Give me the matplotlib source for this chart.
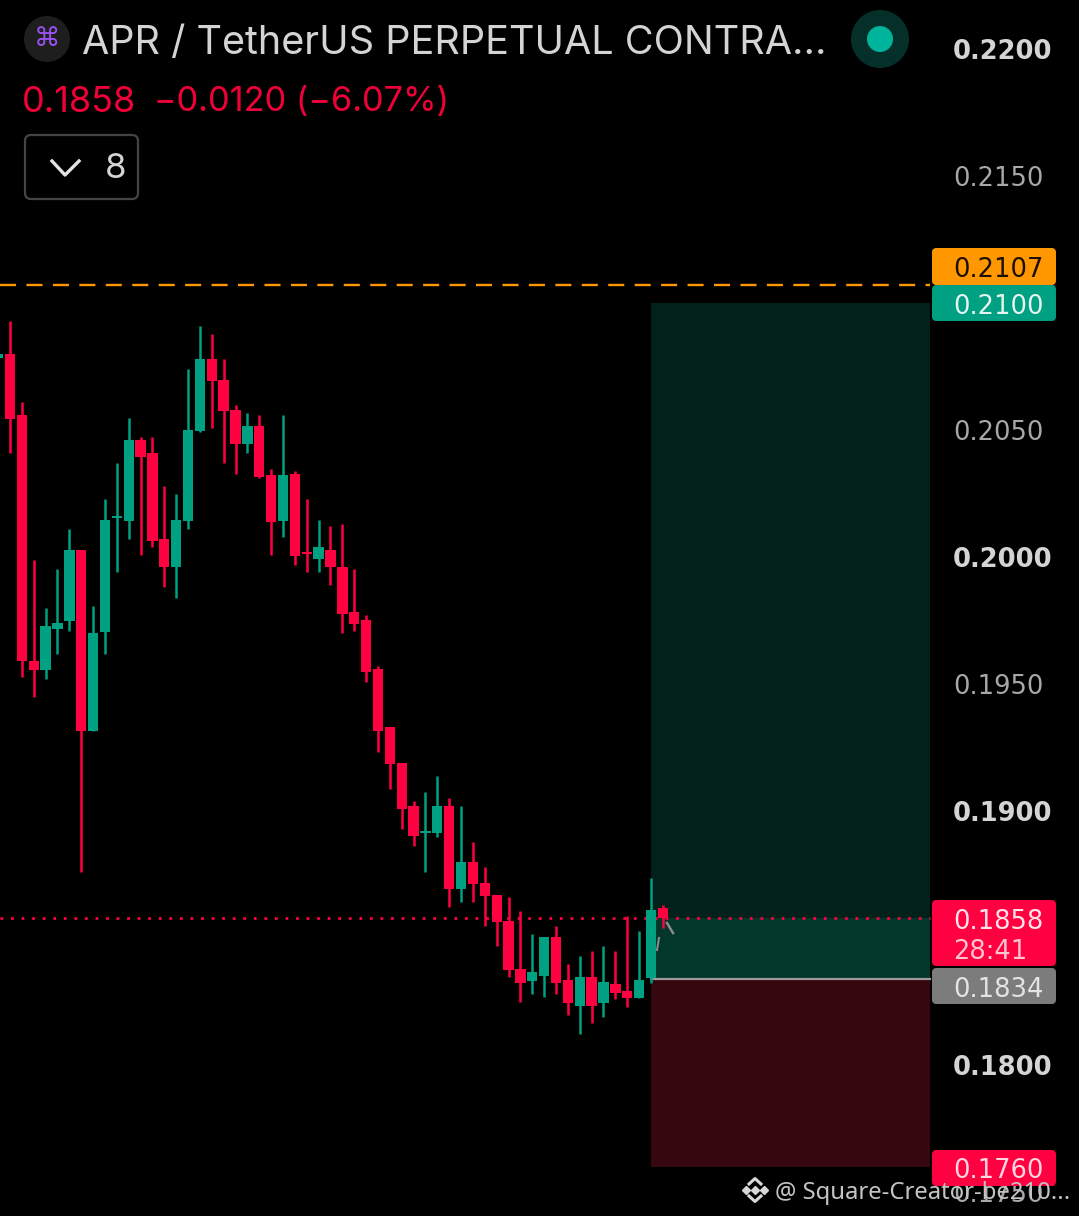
import matplotlib
matplotlib.use('Agg')
import matplotlib.pyplot as plt
from matplotlib.patches import FancyBboxPatch, Circle, Rectangle

plt.rcParams['font.family'] = ['Inter', 'DejaVu Sans']

opens = [0.20784, 0.20799, 0.20559, 0.19591, 0.19555, 0.19717, 0.19748, 0.20028, 0.19315, 0.19705, 0.20154,
         0.20142, 0.20461, 0.20409, 0.20071, 0.19961, 0.20142, 0.20496, 0.20780, 0.20697, 0.20579,
         0.20445, 0.20516, 0.20323, 0.20142, 0.20327, 0.20020, 0.19992, 0.20028, 0.19961, 0.19784,
         0.19752, 0.19559, 0.19331, 0.19189, 0.19020, 0.18913, 0.18913, 0.19020, 0.18693, 0.18799,
         0.18717, 0.18669, 0.18567, 0.18378, 0.18331, 0.18350, 0.18504, 0.18335, 0.18232, 0.18346,
         0.18244, 0.18319, 0.18291, 0.18264, 0.18342, 0.18618]
highs = [0.20799, 0.20929, 0.20610, 0.19988, 0.19799, 0.19953, 0.20110, 0.20028, 0.19807, 0.20228, 0.20370,
         0.20547, 0.20472, 0.20472, 0.20280, 0.20248, 0.20740, 0.20909, 0.20878, 0.20780, 0.20598,
         0.20567, 0.20559, 0.20346, 0.20559, 0.20339, 0.20228, 0.20146, 0.20122, 0.20130, 0.19953,
         0.19772, 0.19571, 0.19331, 0.19189, 0.19039, 0.19075, 0.19138, 0.19051, 0.19020, 0.18878,
         0.18780, 0.18669, 0.18661, 0.18606, 0.18516, 0.18504, 0.18547, 0.18398, 0.18429, 0.18449,
         0.18469, 0.18449, 0.18587, 0.18528, 0.18736, 0.18630]
lows = [0.20784, 0.20409, 0.19528, 0.19449, 0.19520, 0.19618, 0.19709, 0.18760, 0.19315, 0.19618, 0.19941,
        0.20071, 0.20008, 0.20039, 0.19882, 0.19839, 0.20110, 0.20492, 0.20508, 0.20370, 0.20327,
        0.20409, 0.20311, 0.20008, 0.20079, 0.19969, 0.19941, 0.19941, 0.19890, 0.19701, 0.19709,
        0.19508, 0.19232, 0.19087, 0.18929, 0.18862, 0.18760, 0.18898, 0.18622, 0.18642, 0.18642,
        0.18547, 0.18469, 0.18346, 0.18248, 0.18280, 0.18268, 0.18280, 0.18197, 0.18122, 0.18165,
        0.18189, 0.18260, 0.18228, 0.18264, 0.18323, 0.18539]
closes = [0.20799, 0.20543, 0.19591, 0.19555, 0.19728, 0.19740, 0.20028, 0.19315, 0.19701, 0.20146, 0.20161,
          0.20461, 0.20394, 0.20063, 0.19961, 0.20146, 0.20500, 0.20780, 0.20693, 0.20575, 0.20445,
          0.20516, 0.20315, 0.20138, 0.20323, 0.20004, 0.20012, 0.20039, 0.19961, 0.19776, 0.19736,
          0.19547, 0.19315, 0.19185, 0.19008, 0.18902, 0.18921, 0.19020, 0.18693, 0.18799, 0.18713,
          0.18665, 0.18563, 0.18374, 0.18323, 0.18366, 0.18504, 0.18323, 0.18244, 0.18346, 0.18232,
          0.18327, 0.18284, 0.18264, 0.18335, 0.18610, 0.18579]

tick_values = [0.2200, 0.2150, 0.2050, 0.2000, 0.1950, 0.1900, 0.1800, 0.1750]
tick_labels = ['0.2200', '0.2150', '0.2050', '0.2000', '0.1950', '0.1900', '0.1800', '0.1750']
bold_ticks = ['0.2200', '0.2000', '0.1900', '0.1800']

last_price = 0.1858
entry_price = 0.1834
target_price = 0.2100
stop_price = 0.1760
alert_price = 0.2107

GREEN = '#00A082'
RED = '#FF0040'
PRICE_FONT = 'DejaVu Sans'

fig = plt.figure(figsize=(10.79, 12.16), dpi=100, facecolor='black')
ax = fig.add_axes([0, 0, 1, 1], facecolor='black')
x_left, x_right = -0.8425, 90.06
ax.set_xlim(x_left, x_right)
ax.set_ylim(0.17406, 0.22193)

# first entry is the cut off candle on the left edge
xs = list(range(-1, len(opens) - 1))
colors = [GREEN if c >= o else RED for o, c in zip(opens, closes)]

# long position box
pos_left, pos_right = 54.0, 77.5
ax.add_patch(Rectangle((pos_left, last_price), pos_right - pos_left, target_price - last_price, color='#02211A', lw=0, zorder=1))
ax.add_patch(Rectangle((pos_left, entry_price), pos_right - pos_left, last_price - entry_price, color='#03372B', lw=0, zorder=1.1))
ax.add_patch(Rectangle((pos_left, stop_price), pos_right - pos_left, entry_price - stop_price, color='#36070F', lw=0, zorder=1))
ax.plot([pos_left, pos_right], [entry_price, entry_price], color='#9A9A9A', lw=1.6, zorder=1.2)

ax.plot([x_left, pos_right], [alert_price, alert_price], color='#FF9800', lw=1.7, dashes=(6.8, 4.4), zorder=1.5)
ax.plot([x_left, pos_right], [last_price, last_price], color=RED, lw=2.0, dashes=(1, 2.8), zorder=1.5)

# candles
ax.vlines(xs, lows, highs, colors=colors, lw=1.8, zorder=3)
for x, o, c, col in zip(xs, opens, closes, colors):
    ax.bar(x, max(abs(c - o), 0.00008), width=0.87, bottom=min(o, c), color=col, lw=0, zorder=3)

ax.yaxis.tick_right()
ax.set_xticks([])
ax.set_yticks(tick_values)
ax.set_yticklabels(tick_labels)
ax.tick_params(axis='y', length=0, pad=-(1079 - 953) * 0.72)
for lab in ax.get_yticklabels():
    lab.set_family(PRICE_FONT)
    lab.set_fontsize(18.5)
    if lab.get_text() in bold_ticks:
        lab.set_fontweight('bold')
        lab.set_color('#D4D4D4')
    else:
        lab.set_color('#A8A8A8')
for sp in ax.spines.values():
    sp.set_visible(False)

# second layer in pixels for the header and price tags
ui = fig.add_axes([0, 0, 1, 1])
ui.set_xlim(0, 1079)
ui.set_ylim(1216, 0)
ui.axis('off')


def tag(top, bottom, color):
    ui.add_patch(FancyBboxPatch((932.5, top + 0.5), 123, bottom - top - 1, boxstyle='round,pad=0,rounding_size=4',
                                fc=color, ec=color, lw=0.7, mutation_aspect=1))


tag(248, 285, '#FF9800')
tag(285, 321, '#00A082')
tag(900, 966, RED)
tag(968, 1004, '#7C7C7C')
tag(1150, 1186, RED)
tag_font = dict(fontsize=18.5, va='center', ha='left', family=PRICE_FONT)
ui.text(953, 270, '%.4f' % alert_price, color='#1C0E00', **tag_font)
ui.text(953, 307, '%.4f' % target_price, color='#E6F4F0', **tag_font)
ui.text(953, 922, '%.4f' % last_price, color='#FFE3E9', **tag_font)
ui.text(953, 952, '28:41', color='#FFC4D0', **tag_font)
ui.text(953, 990, '%.4f' % entry_price, color='#E4E4E4', **tag_font)
ui.text(953, 1171, '%.4f' % stop_price, color='#FFD6DF', **tag_font)

# little grey marks by the last candle
ui.plot([659, 657], [938, 950], color='#8A8A8A', lw=1.5)
ui.plot([667, 673], [923, 933], color='#8A8A8A', lw=1.8)

# header
ui.add_patch(Circle((47, 39), 23, fc='#1E1E1E', ec='none'))
ui.text(47, 39, '\u2318', color='#9B50F0', fontsize=19, ha='center', va='center', family='DejaVu Sans')
ui.text(82, 43, 'APR / TetherUS PERPETUAL CONTRA...', color='#D4D4D4', fontsize=28.5, ha='left', va='center')
ui.text(22, 102, '0.1858', color='#F00038', fontsize=26, ha='left', va='center')
ui.text(154, 102, '\u22120.0120 (\u22126.07%)', color='#F00038', fontsize=24.7, ha='left', va='center')
ui.add_patch(FancyBboxPatch((25, 135), 113, 64, boxstyle='round,pad=0,rounding_size=6', fc='black', ec='#454545', lw=1.6))
ui.plot([52, 65, 79], [161, 175, 161], color='#E4E4E4', lw=2.4)
ui.text(116, 169, '8', color='#D4D4D4', fontsize=25, ha='center', va='center')

ui.add_patch(Circle((880, 39), 29, fc='#05302A', ec='none'))
ui.add_patch(Circle((880, 39), 13, fc='#00B49C', ec='none'))

# watermark
logo = '#D8D8D8'
ui.plot([755, 746, 764], [1190, 1190, 1190], ls='none', marker='D', ms=4, color=logo)
ui.plot([749, 755, 761], [1184, 1178.5, 1184], color=logo, lw=2.2)
ui.plot([749, 755, 761], [1196, 1201.5, 1196], color=logo, lw=2.2)
ui.text(775, 1193, '@ Square-Creator-be210...', color='#C4C4C4', fontsize=17.2, ha='left', va='center', family=['Noto Sans', 'DejaVu Sans'])

fig.savefig('out.png', dpi=100, facecolor='black')
